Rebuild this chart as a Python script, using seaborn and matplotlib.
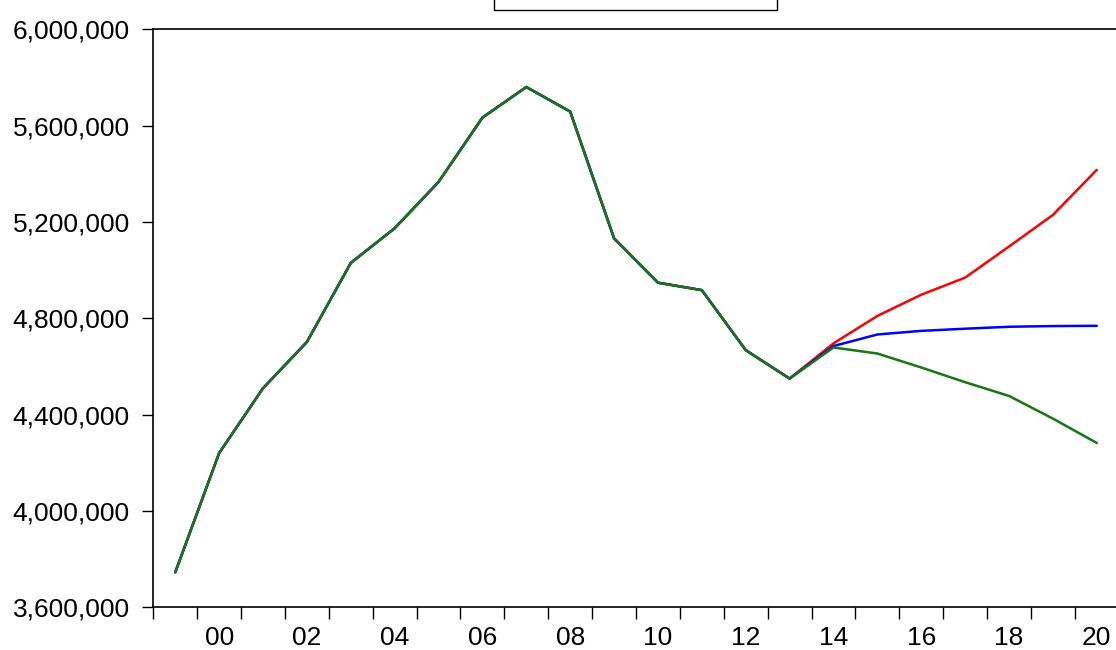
import matplotlib
matplotlib.use("Agg")
import matplotlib.pyplot as plt
from matplotlib.ticker import FixedLocator, FuncFormatter
from matplotlib.patches import Rectangle
import seaborn as sns
import pandas as pd

# Annual series: shared history 1999-2013, three projections 2014-2020
hist_years = [1999, 2000, 2001, 2002, 2003, 2004, 2005, 2006,
              2007, 2008, 2009, 2010, 2011, 2012, 2013]
history = [3746000, 4241000, 4510000, 4702000, 5030000, 5174000, 5366000, 5633000,
           5760000, 5658000, 5132000, 4948000, 4917000, 4668000, 4550000]

proj_years = [2014, 2015, 2016, 2017, 2018, 2019, 2020]
high = [4696000, 4810000, 4898000, 4969000, 5098000, 5229000, 5416000]
base = [4685000, 4733000, 4748000, 4757000, 4765000, 4768000, 4769000]
low = [4679000, 4654000, 4596000, 4535000, 4478000, 4384000, 4283000]

label_years = [2000, 2002, 2004, 2006, 2008, 2010, 2012, 2014, 2016, 2018, 2020]
y_ticks = [3600000, 4000000, 4400000, 4800000, 5200000, 5600000, 6000000]

sns.set_style("white")
plt.rcParams["font.family"] = ["Liberation Sans", "DejaVu Sans"]
plt.rcParams["text.color"] = "black"
plt.rcParams["xtick.color"] = "black"
plt.rcParams["ytick.color"] = "black"

years = hist_years + proj_years
df = pd.DataFrame({
    "year": years * 3,
    "value": history + high + history + base + history + low,
    "scenario": ["high"] * len(years) + ["base"] * len(years) + ["low"] * len(years),
})

fig = plt.figure(figsize=(11.16, 6.5), dpi=100)
ax = fig.add_axes([0.1374, 0.0654, 0.865, 0.8897])

palette = {"high": "#ff0000", "base": "#0000ff", "low": "#147814"}
for name in ["high", "base", "low"]:
    sns.lineplot(data=df[df["scenario"] == name], x="year", y="value",
                 color=palette[name], linewidth=1.8, ax=ax, legend=False)

ax.set_xlim(1998.5, 2020.5)
ax.set_ylim(3600000, 6000000)
ax.set_xlabel("")
ax.set_ylabel("")

# year labels centred in each period, ticks on period boundaries
ax.xaxis.set_major_locator(FixedLocator(label_years))
ax.set_xticklabels([f"{y % 100:02d}" for y in label_years])
ax.xaxis.set_minor_locator(FixedLocator([y - 0.5 for y in years] + [2020.5]))
ax.tick_params(axis="x", which="major", length=0, pad=13, labelsize=19,
               labelcolor="black")
ax.tick_params(axis="x", which="minor", length=8.5, width=1.0, direction="out",
               color="black", bottom=True)

ax.yaxis.set_major_locator(FixedLocator(y_ticks))
ax.yaxis.set_major_formatter(FuncFormatter(lambda v, p: f"{int(v):,}"))
ax.tick_params(axis="y", which="major", length=8, width=1.0, direction="out",
               color="black", left=True, pad=9, labelsize=19, labelcolor="black")

for side in ["left", "right", "top", "bottom"]:
    ax.spines[side].set_visible(True)
    ax.spines[side].set_color("black")
    ax.spines[side].set_linewidth(1.2)

# legend frame sitting above the plot area
fig.patches.append(Rectangle((494 / 1116, 640 / 650), (777 - 494) / 1116, 0.1,
                             transform=fig.transFigure, fill=False,
                             edgecolor="black", linewidth=1.0))

fig.savefig("out.png", dpi=100)
